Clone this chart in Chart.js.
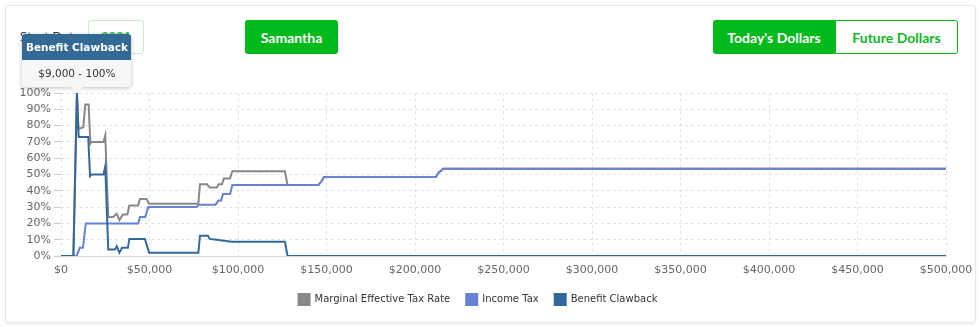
<!DOCTYPE html>
<html>
<head>
<meta charset="utf-8">
<script src="https://cdn.jsdelivr.net/npm/chart.js@4.4.0/dist/chart.umd.min.js"></script>
<style>
  html, body { margin: 0; padding: 0; background: #fff; }
  body { width: 980px; height: 327px; position: relative; overflow: hidden; font-family: "DejaVu Sans", Verdana, sans-serif; }
  .card { position: absolute; left: 5px; top: 5px; width: 969px; height: 316px; border: 1px solid #e4e6ef; border-radius: 3px; box-shadow: 0 1px 3px rgba(0,0,0,0.08); background: #fff; }
  .label { position: absolute; left: 20px; top: 27px; font-size: 13px; color: #333; font-family: "Open Sans", sans-serif; }
  .year { position: absolute; left: 88px; top: 20px; width: 54px; height: 32px; border: 1px solid #c4f0c8; border-radius: 3px; color: #1fbf35; font: bold 13px Lato, sans-serif; display: flex; align-items: center; justify-content: center; }
  .btn { position: absolute; top: 20px; height: 34px; display: flex; align-items: center; justify-content: center; font: bold 14px Lato, sans-serif; box-sizing: border-box; }
  .btn.on { background: #00ba1c; color: #fff; }
  .btn.off { background: #fff; color: #10b828; border: 1px solid #00ba1c; }
  #chartWrap { position: absolute; left: 10px; top: 86px; width: 965px; height: 229px; }
  .tip { position: absolute; width: 109px; border-radius: 3px; box-shadow: 0 1px 4px rgba(0,0,0,0.25); background: #f7f7f7; font-family: "DejaVu Sans", sans-serif; }
  .tip .head { background: #336a95; color: #fff; font-weight: bold; font-size: 10.5px; height: 26px; line-height: 26px; text-align: center; border-radius: 3px 3px 0 0; }
  .tip .body { color: #333; font-size: 10.5px; height: 27px; line-height: 27px; text-align: center; }
  .tip .arrow { position: absolute; left: 50%; bottom: -6px; margin-left: -6px; width: 0; height: 0; border-left: 6px solid transparent; border-right: 6px solid transparent; border-top: 6px solid #f7f7f7; }
</style>
</head>
<body>
<div class="card"></div>
<div class="label">Start Date</div>
<div class="year">2021</div>
<div class="btn on" style="left:245px;width:93px;border-radius:3px;">Samantha</div>
<div class="btn on" style="left:713px;width:122px;border-radius:3px 0 0 3px;">Today's Dollars</div>
<div class="btn off" style="left:835px;width:123px;border-radius:0 3px 3px 0;">Future Dollars</div>
<div id="chartWrap"><canvas id="chart"></canvas></div>
<div class="tip" id="tip"><div class="head">Benefit Clawback</div><div class="body">$9,000 - 100%</div><div class="arrow"></div></div>
<script>
// income ($) / rate (%) pairs
const marginalRate = [
  [0, 0], [7000, 0], [9000, 100], [9800, 78], [12600, 79], [13700, 93], [15600, 93],
  [16600, 69], [17200, 70], [24000, 70], [25000, 74], [26700, 24], [29500, 24],
  [31500, 26], [33000, 22], [35000, 25.5], [37500, 25.5], [38600, 31], [43600, 31],
  [44600, 35], [48400, 35], [49700, 32], [77600, 32], [78500, 44], [82500, 44],
  [84000, 42], [88000, 42], [89000, 44], [91000, 44], [92000, 47.5], [95500, 47.5],
  [96800, 52], [126500, 52], [128000, 43.5], [145400, 43.5], [147300, 46],
  [148600, 48.5], [211900, 48.5], [213200, 51], [216000, 53.5], [500000, 53.5]
];
const incomeTax = [
  [0, 0], [8800, 0], [10600, 5], [12400, 5], [14000, 20], [43600, 20], [44600, 24],
  [47600, 24], [49300, 30], [76600, 30], [78000, 31.5], [87300, 31.5], [89000, 34],
  [90500, 34], [91500, 38], [95500, 38], [96800, 43.5], [145400, 43.5], [147300, 46],
  [148600, 48.5], [211900, 48.5], [213200, 51], [216000, 53.5], [500000, 53.5]
];
const benefitClawback = [
  [0, 0], [7000, 0], [9000, 100], [10000, 73], [15400, 73], [16400, 49], [17200, 50],
  [24000, 50], [25000, 55], [26700, 4], [30500, 4], [31500, 6], [33000, 2], [34500, 5],
  [37800, 5], [38600, 10.5], [47400, 10.5], [49800, 2], [77600, 2], [78500, 12.5],
  [83000, 12.5], [84000, 10.5], [88000, 10], [91000, 9.5], [96400, 8.7], [126500, 8.7],
  [128000, 0], [500000, 0]
];
const seriesNames = ["Marginal Effective Tax Rate", "Income Tax", "Benefit Clawback"];
const seriesColors = ["#888888", "#6682d4", "#32699a"];
const xTicksStep = 50000;
const yMax = 100;

const toPoints = (arr) => arr.map(([x, y]) => ({ x, y }));

const datasets = [marginalRate, incomeTax, benefitClawback].map((d, i) => ({
  label: seriesNames[i],
  data: toPoints(d),
  borderColor: seriesColors[i],
  backgroundColor: seriesColors[i],
  borderWidth: 2,
  pointRadius: 0,
  tension: 0,
  order: 3 - i
}));

const tickFont = { family: "DejaVu Sans", size: 11 };

const chart = new Chart(document.getElementById("chart"), {
  type: "line",
  data: { datasets },
  options: {
    responsive: true,
    maintainAspectRatio: false,
    animation: false,
    layout: { padding: { top: 7, right: 29, left: 0, bottom: 0 } },
    plugins: {
      tooltip: { enabled: false },
      legend: {
        position: "bottom",
        labels: {
          boxWidth: 11,
          boxHeight: 11,
          padding: 16,
          color: "#333",
          font: { family: "DejaVu Sans", size: 10 },
          sort: (a, b) => a.datasetIndex - b.datasetIndex
        }
      }
    },
    scales: {
      x: {
        type: "linear",
        min: 0,
        max: 500000,
        ticks: {
          stepSize: xTicksStep,
          padding: 8,
          color: "#666",
          font: tickFont,
          maxRotation: 0,
          callback: (v) => "$" + v.toLocaleString("en-US")
        },
        grid: { color: "#e3e3e3", drawTicks: false },
        border: { display: true, color: "#d8d8d8" },
        afterFit: (s) => { s.paddingLeft = 0; s.paddingRight = 0; s.height = 22; }
      },
      y: {
        min: 0,
        max: yMax,
        ticks: {
          stepSize: 10,
          padding: 3,
          color: "#666",
          font: tickFont,
          callback: (v) => v + "%"
        },
        grid: { color: "#e3e3e3", tickLength: 7, tickColor: "#ccc" },
        border: { display: false },
        afterFit: (s) => { s.width = 51; s.paddingTop = 0; s.paddingBottom = 0; }
      }
    }
  }
});

// dashed grid lines
chart.options.scales.x.border.dash = [3, 3];
chart.options.scales.y.border.dash = [3, 3];
chart.update();

// place tooltip on the peak clawback point
const px = chart.scales.x.getPixelForValue(benefitClawback[2][0]);
const py = chart.scales.y.getPixelForValue(benefitClawback[2][1]);
const tip = document.getElementById("tip");
tip.style.left = (10 + px - 109 / 2) + "px";
tip.style.top = (86 + py - 6 - 53) + "px";
</script>
</body>
</html>
